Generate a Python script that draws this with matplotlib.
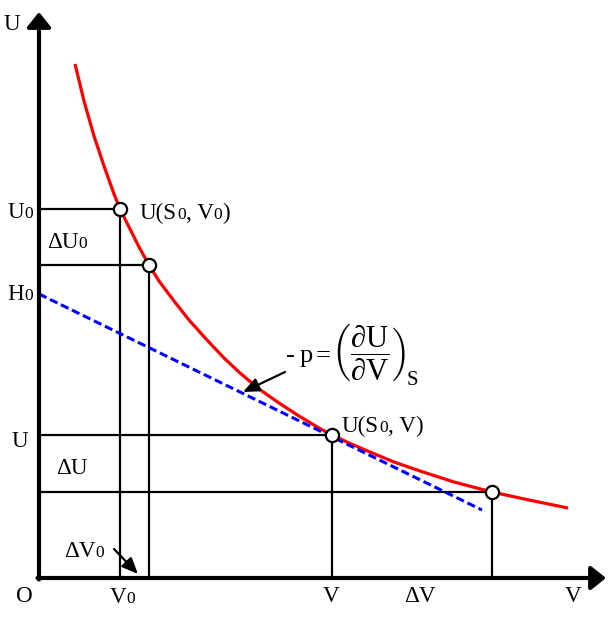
import numpy as np
import matplotlib
matplotlib.use("Agg")
import matplotlib.pyplot as plt

plt.rcParams['font.family'] = ['Liberation Serif', 'DejaVu Serif']
plt.rcParams['mathtext.fontset'] = 'custom'
plt.rcParams['mathtext.rm'] = 'Liberation Serif'
plt.rcParams['mathtext.it'] = 'Liberation Serif:italic'

# curve U(S0, V) (O at 0,0)
curve_v = [36, 45, 55, 65, 75, 81, 90, 100, 110, 120, 135, 150, 168, 185, 201,
           220, 240, 260, 280, 293, 310, 331, 355, 381, 415, 453, 490, 529]
curve_u = [514, 477, 442, 412, 384, 369, 351, 331, 313, 297, 277, 258, 238, 220, 205,
           189, 175, 162, 150, 143, 135, 126, 116, 107, 96, 86, 78, 70]

# tangent at V (slope -p)
tangent_v = [0, 443]
tangent_u = [284, 68]

# marked states on the curve
points_v = [81, 110, 293, 453]
points_u = [369, 313, 143, 86]

x_max = 567
y_max = 566

fig = plt.figure(figsize=(6.16, 6.17), dpi=100)
ax = fig.add_axes([0, 0, 1, 1])
ax.set_xlim(-39, 577)   # 1 data unit = 1 pixel
ax.set_ylim(-39, 578)
ax.axis('off')
rend = fig.canvas.get_renderer()

FS = 16.7
SUB = 12.5


def label(x, y, parts, ha='center'):
    # parts: list of (text, is_subscript); y is the baseline
    objs = []
    for s, sub in parts:
        t = ax.text(0, y, s, fontsize=SUB if sub else FS, va='baseline', ha='left')
        objs.append(t)
    widths = [t.get_window_extent(rend).width for t in objs]
    total = sum(widths)
    x0 = x - total / 2 if ha == 'center' else x
    for t, w in zip(objs, widths):
        t.set_x(x0)
        x0 += w


# guide lines from the points to the axes
for v, u in zip(points_v, points_u):
    ax.plot([0, v], [u, u], color='black', lw=1.6, zorder=2)
    ax.plot([v, v], [0, u], color='black', lw=1.6, zorder=2)

ax.plot(curve_v, curve_u, color='red', lw=2.3, solid_capstyle='butt',
        solid_joinstyle='round', zorder=3)
ax.plot(tangent_v, tangent_u, color='blue', lw=2.2, dashes=(2.7, 1.3), zorder=4)
ax.plot(points_v, points_u, 'o', ms=9.5, mfc='white', mec='black', mew=1.6, zorder=5)

# axes with arrows
axis_arrow = dict(arrowstyle='-|>,head_length=0.45,head_width=0.36', lw=3,
                  color='black', shrinkA=0, shrinkB=0, mutation_scale=20)
ax.annotate('', xy=(0, y_max), xytext=(0, -1.5), arrowprops=axis_arrow, zorder=6)
ax.annotate('', xy=(x_max, 0), xytext=(-1.5, 0), arrowprops=axis_arrow, zorder=6)

label(-27, 548, [('U', False)])
label(-19, 360, [('U', False), ('0', True)])
label(28, 330, [('ΔU', False), ('0', True)])
label(-19, 278, [('H', False), ('0', True)])
label(-19, 131, [('U', False)])
label(33, 104, [('ΔU', False)])
label(45, 21, [('ΔV', False), ('0', True)])
label(-15, -24, [('O', False)])
label(83, -25, [('V', False), ('0', True)])
label(292, -24, [('V', False)])
label(381, -24, [('ΔV', False)])
label(534, -24, [('V', False)])
label(101, 359, [('U(S', False), ('0', True), (', V', False), ('0', True), (')', False)],
      ha='left')
label(303, 146, [('U(S', False), ('0', True), (', V)', False)], ha='left')

# formula for the slope: - p = (dU/dV)_S
ax.text(247, 216, '-', fontsize=19, ha='left', va='baseline')
ax.text(261, 216, 'p', fontsize=19, ha='left', va='baseline')
ax.text(277, 216, '=', fontsize=19, ha='left', va='baseline')
ax.text(292, 225, r'$\left(\dfrac{\partial\mathrm{U}}{\partial\mathrm{V}}\right)$',
        fontsize=22, ha='left', va='center')
ax.text(368, 193, 'S', fontsize=15, ha='left', va='baseline')

small_arrow = dict(arrowstyle='-|>,head_length=0.7,head_width=0.3', lw=1.6,
                   color='black', shrinkA=0, shrinkB=0, mutation_scale=14)
ax.annotate('', xy=(204, 186), xytext=(246, 206), arrowprops=small_arrow, zorder=6)
ax.annotate('', xy=(99, 4), xytext=(75, 29), arrowprops=small_arrow, zorder=6)

fig.savefig('out.png', dpi=100)
